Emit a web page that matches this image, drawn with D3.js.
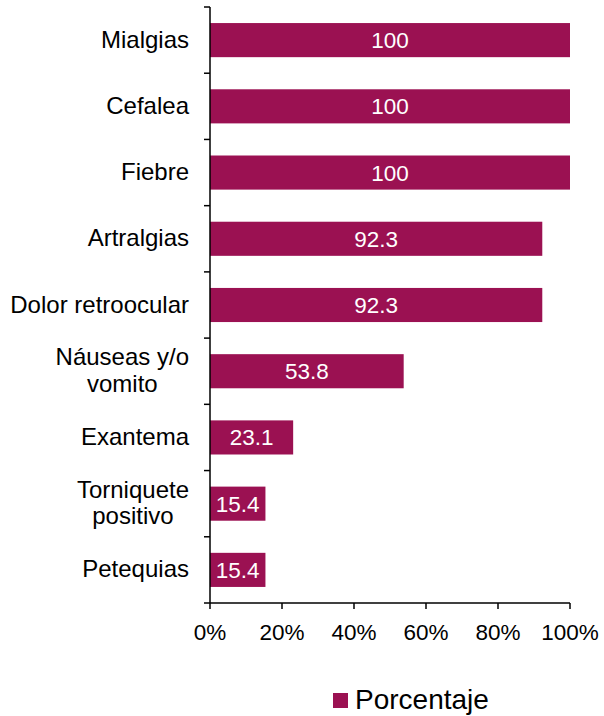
<!DOCTYPE html>
<html><head><meta charset="utf-8">
<script src="https://cdn.jsdelivr.net/npm/d3@7"></script>
<style>body{margin:0;background:#fff}svg{display:block}text{font-family:"Liberation Sans",Arial,sans-serif}</style>
</head><body>
<svg id="c" width="604" height="716"></svg>
<script>
const categories = [["Mialgias"],["Cefalea"],["Fiebre"],["Artralgias"],["Dolor retroocular"],["Náuseas y/o","vomito"],["Exantema"],["Torniquete","positivo"],["Petequias"]];
const values = [100,100,100,92.3,92.3,53.8,23.1,15.4,15.4];
const valueLabels = ["100","100","100","92.3","92.3","53.8","23.1","15.4","15.4"];
const xTicks = [0,20,40,60,80,100];
const seriesName = "Porcentaje";
const color = "#9B1152";

const svg = d3.select("#c");
const x = d3.scaleLinear().domain([0,100]).range([210,570]);
const y = d3.scaleBand().domain(d3.range(categories.length)).range([7,603]).paddingInner(0.485).paddingOuter(0.2425);

// bars
svg.selectAll("rect.bar").data(values).join("rect")
  .attr("x", x(0)).attr("y",(d,i)=>y(i)).attr("width",d=>x(d)-x(0)).attr("height",y.bandwidth()).attr("fill",color);
svg.selectAll("text.val").data(values).join("text")
  .attr("x",(d)=>(x(0)+x(d))/2).attr("y",(d,i)=>y(i)+y.bandwidth()/2+8)
  .attr("text-anchor","middle").attr("fill","#fff").attr("font-size",22.5).text((d,i)=>valueLabels[i]);

// y axis
svg.append("line").attr("x1",210).attr("x2",210).attr("y1",7).attr("y2",603).attr("stroke","#000").attr("stroke-width",1.5);
const step = y.step();
d3.range(categories.length+1).forEach(i=>{
  const yy = 7 + i*step;
  svg.append("line").attr("x1",204).attr("x2",210).attr("y1",yy).attr("y2",yy).attr("stroke","#000").attr("stroke-width",1.5);
});
categories.forEach((lines,i)=>{
  const cy = y(i)+y.bandwidth()/2;
  const lh = 26.5;
  const t = svg.append("text").attr("text-anchor","end").attr("font-size",24).attr("fill","#000");
  lines.forEach((s,j)=>{
    t.append("tspan").attr("x", 189).attr("y", cy + 7.5 + (j-(lines.length-1)/2)*lh).text(s);
  });
  if(lines.length>1){
    const w = Math.max(...t.selectAll("tspan").nodes().map(n=>n.getComputedTextLength()));
    t.attr("text-anchor","middle").selectAll("tspan").attr("x",189 - w/2);
  }
});

// x axis
svg.append("line").attr("x1",210).attr("x2",570).attr("y1",603).attr("y2",603).attr("stroke","#000").attr("stroke-width",1.5);
xTicks.forEach(v=>{
  svg.append("line").attr("x1",x(v)).attr("x2",x(v)).attr("y1",603).attr("y2",609).attr("stroke","#000").attr("stroke-width",1.5);
  svg.append("text").attr("x",x(v)).attr("y",640).attr("text-anchor","middle").attr("font-size",22.5).attr("fill","#000").text(v+"%");
});

// legend
svg.append("rect").attr("x",333).attr("y",693).attr("width",15).attr("height",15).attr("fill",color);
svg.append("text").attr("x",355).attr("y",709).attr("font-size",28).attr("fill","#000").text(seriesName);
</script>
</body></html>
